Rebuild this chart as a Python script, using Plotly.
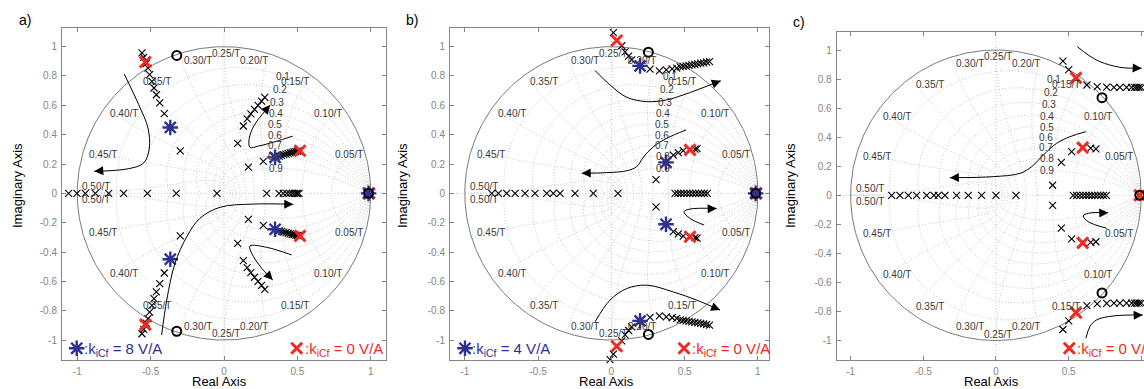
import numpy as np
import plotly.graph_objects as go

W, H = 1144, 389

# ---------------- data: panel a)  (k_iCf = 8 V/A) ----------------
# upper-half locus points (lower half is the complex conjugate)
a_locus_x = [-0.559, -0.547, -0.530, -0.518, -0.507, -0.491, -0.477, -0.461, -0.438, -0.407, -0.298,
             0.132, 0.158, 0.183, 0.208, 0.232, 0.256, 0.278,
             0.093, 0.166, 0.268,
             0.375, 0.392, 0.408, 0.423, 0.437, 0.451, 0.464, 0.477, 0.489, 0.500, 0.510]
a_locus_y = [0.957, 0.927, 0.885, 0.854, 0.809, 0.763, 0.718, 0.672, 0.616, 0.543, 0.290,
             0.459, 0.507, 0.541, 0.572, 0.600, 0.628, 0.654,
             0.341, 0.178, 0.218,
             0.254, 0.259, 0.264, 0.268, 0.272, 0.276, 0.279, 0.282, 0.285, 0.287, 0.289]
a_real_x = [-1.059, -1.002, -0.945, -0.877, -0.786, -0.684, -0.522, -0.325, -0.048, 0.291,
            0.375, 0.404, 0.427, 0.447, 0.465, 0.480, 0.493, 0.503, 0.511, 0.975, 0.990]
a_red_x, a_red_y = [-0.536, 0.518], [0.895, 0.290]
a_red_real = [0.990]
a_blue_x, a_blue_y = [-0.366, 0.348], [0.449, 0.245]
a_blue_real = [0.985]
a_zero_x, a_zero_y = [-0.322], [0.940]
a_zero_real = [0.985]
a_arrows = [
    [(-0.680, 0.813), (-0.581, 0.604), (-0.518, 0.445), (-0.509, 0.309), (-0.547, 0.207), (-0.650, 0.168), (-0.884, 0.150)],
    [(0.468, 0.390), (0.348, 0.352), (0.234, 0.322), (0.177, 0.313), (0.172, 0.375), (0.207, 0.466), (0.257, 0.534), (0.314, 0.602)],
    [(-0.425, -0.966), (-0.390, -0.727), (-0.334, -0.477), (-0.254, -0.296), (-0.164, -0.170), (-0.027, -0.095), (0.200, -0.073), (0.472, -0.075)],
    [(0.461, -0.420), (0.291, -0.368), (0.177, -0.359), (0.189, -0.409), (0.257, -0.511), (0.332, -0.591)],
]

# ---------------- data: panel b)  (k_iCf = 4 V/A) ----------------
b_locus_x = [-0.009, 0.014, 0.071, 0.094, 0.118, 0.139,
             0.264, 0.328, 0.375, 0.415, 0.446, 0.470, 0.490, 0.510, 0.530, 0.550, 0.570, 0.590, 0.610, 0.630, 0.650, 0.670,
             0.305, 0.423, 0.457, 0.491, 0.571, 0.585]
b_locus_y = [1.133, 1.096, 1.006, 0.965, 0.935, 0.910,
             0.846, 0.835, 0.842, 0.848, 0.853, 0.862, 0.866, 0.869, 0.872, 0.876, 0.879, 0.883, 0.887, 0.890, 0.894, 0.898,
             0.093, 0.261, 0.277, 0.291, 0.302, 0.305]
b_real_x = [-0.816, -0.771, -0.714, -0.657, -0.589, -0.521, -0.441, -0.396, -0.350, -0.248, -0.123, 0.045,
            0.435, 0.455, 0.475, 0.495, 0.515, 0.535, 0.555, 0.575, 0.595, 0.615, 0.635, 0.655, 0.975, 0.990]
b_red_x, b_red_y = [0.037, 0.537], [1.042, 0.296]
b_red_real = [0.990]
b_blue_x, b_blue_y = [0.196, 0.373], [0.869, 0.211]
b_blue_real = [0.985]
b_zero_x, b_zero_y = [0.253], [0.962]
b_zero_real = [0.985]
b_arrows = [
    [(-0.111, 0.837), (-0.009, 0.739), (0.105, 0.655), (0.242, 0.625), (0.378, 0.637), (0.491, 0.671), (0.747, 0.767)],
    [(0.510, 0.432), (0.378, 0.375), (0.287, 0.318), (0.218, 0.246), (0.173, 0.182), (0.105, 0.154), (-0.031, 0.141), (-0.202, 0.137)],
    [(0.633, -0.216), (0.537, -0.171), (0.496, -0.125), (0.537, -0.107), (0.719, -0.103)],
    [(-0.111, -0.876), (-0.009, -0.728), (0.105, -0.649), (0.242, -0.626), (0.423, -0.672), (0.583, -0.728), (0.742, -0.796)],
]

# ---------------- data: panel c)  (k_iCf = 0 V/A) ----------------
c_locus_x = [0.461, 0.501, 0.626, 0.697, 0.762, 0.812, 0.853, 0.899, 0.934, 0.955, 0.970, 0.985, 1.000,
             0.390, 0.450, 0.521, 0.652, 0.688]
c_locus_y = [0.924, 0.865, 0.759, 0.748, 0.744, 0.742, 0.742, 0.742, 0.742, 0.742, 0.742, 0.742, 0.742,
             0.069, 0.226, 0.300, 0.325, 0.320]
c_real_x = [-0.718, -0.661, -0.603, -0.546, -0.477, -0.427, -0.397, -0.351, -0.271, -0.190, -0.099, 0.000, 0.138,
            0.532, 0.555, 0.578, 0.600, 0.620, 0.640, 0.660, 0.680, 0.700, 0.720, 0.740, 0.760, 0.980]
c_red_x, c_red_y = [0.551, 0.597], [0.808, 0.328]
c_red_real = [0.990]
c_blue_x, c_blue_y = [], []
c_blue_real = []
c_zero_x, c_zero_y = [0.730], [0.672]
c_zero_real = [0.990]
c_arrows = [
    [(0.560, 1.023), (0.635, 0.966), (0.716, 0.920), (0.853, 0.881), (1.003, 0.874)],
    [(0.619, 0.438), (0.509, 0.403), (0.418, 0.358), (0.326, 0.277), (0.246, 0.197), (0.165, 0.151), (-0.019, 0.128), (-0.317, 0.121)],
    [(0.762, -0.227), (0.635, -0.182), (0.601, -0.142), (0.635, -0.124), (0.773, -0.120)],
    [(0.619, -0.984), (0.647, -0.904), (0.693, -0.858), (0.807, -0.831), (1.010, -0.824)],
]

# ---------------- grid (zgrid) ----------------
ZETAS = [0.1, 0.2, 0.3, 0.4, 0.5, 0.6, 0.7, 0.8, 0.9]
ZETA_LABELS = ["0.1", "0.2", "0.3", "0.4", "0.5", "0.6", "0.7", "0.8", "0.9"]
WN_FRACS = [0.05, 0.10, 0.15, 0.20, 0.25, 0.30, 0.35, 0.40, 0.45, 0.50]
WN_LABELS = ["0.05/T", "0.10/T", "0.15/T", "0.20/T", "0.25/T", "0.30/T", "0.35/T", "0.40/T", "0.45/T", "0.50/T"]

X_TICKS = [-1, -0.5, 0, 0.5, 1]
X_TICKTEXT = ["-1", "-0.5", "0", "0.5", "1"]
Y_TICKS = [-1, -0.8, -0.6, -0.4, -0.2, 0, 0.2, 0.4, 0.6, 0.8, 1]
Y_TICKTEXT = ["-1", "-0.8", "-0.6", "-0.4", "-0.2", "0", "0.2", "0.4", "0.6", "0.8", "1"]

GAIN_TEXTS = ["8 V/A", "4 V/A", None]

# ---------------- styles ----------------
FONT = "Liberation Sans, Arial, Helvetica, sans-serif"
AXGRAY = "#858585"
GRIDGRAY = "#c8c8c8"
LABELGRAY = "#383838"
RED = "#ee2a24"
BLUE = "#2e3192"

PANELS = [
    dict(xa="x", ya="y", left=62, right=386, top=28, bottom=360, xr=[-1.104, 1.104], yr=[-1.136, 1.127],
         locus=(a_locus_x, a_locus_y), real=a_real_x, red=(a_red_x, a_red_y, a_red_real),
         blue=(a_blue_x, a_blue_y, a_blue_real), zero=(a_zero_x, a_zero_y, a_zero_real), arrows=a_arrows,
         tag="a)", tagpos=(25, 20), ytitle_px=17, blue_leg=(76.7, 348.3), red_leg=(296.7, 348.3), gain=GAIN_TEXTS[0], mirror_y="ticks"),
    dict(xa="x2", ya="y2", left=450, right=769, top=28, bottom=360, xr=[-1.101, 1.076], yr=[-1.136, 1.127],
         locus=(b_locus_x, b_locus_y), real=b_real_x, red=(b_red_x, b_red_y, b_red_real),
         blue=(b_blue_x, b_blue_y, b_blue_real), zero=(b_zero_x, b_zero_y, b_zero_real), arrows=b_arrows,
         tag="b)", tagpos=(412, 20), ytitle_px=402, blue_leg=(465, 348.3), red_leg=(684, 348.3), gain=GAIN_TEXTS[1], mirror_y="ticks"),
    dict(xa="x3", ya="y3", left=836.7, right=1144, top=31.7, bottom=360, xr=[-1.096, 1.019], yr=[-1.134, 1.126],
         locus=(c_locus_x, c_locus_y), real=c_real_x, red=(c_red_x, c_red_y, c_red_real),
         blue=(c_blue_x, c_blue_y, c_blue_real), zero=(c_zero_x, c_zero_y, c_zero_real), arrows=c_arrows,
         tag="c)", tagpos=(799, 22), ytitle_px=790, blue_leg=None, red_leg=(1069.3, 348.3), gain=GAIN_TEXTS[2], mirror_y=False),
]


def px2data(p, px, py):
    x = p["xr"][0] + (px - p["left"]) / (p["right"] - p["left"]) * (p["xr"][1] - p["xr"][0])
    y = p["yr"][1] - (py - p["top"]) / (p["bottom"] - p["top"]) * (p["yr"][1] - p["yr"][0])
    return x, y


def data2px_x(p, x):
    return p["left"] + (x - p["xr"][0]) / (p["xr"][1] - p["xr"][0]) * (p["right"] - p["left"])


def with_conj(xs, ys, real_xs):
    X = list(xs) + list(xs) + list(real_xs)
    Y = list(ys) + [-v for v in ys] + [0.0] * len(real_xs)
    return X, Y


fig = go.Figure()
annotations = []
layout_axes = {}

for i, p in enumerate(PANELS):
    xa, ya = p["xa"], p["ya"]
    # --- zgrid dotted curves ---
    gx, gy = [], []
    th = np.linspace(0, np.pi, 240)
    for z in ZETAS:
        m = z / np.sqrt(1 - z * z)
        zz = np.exp((-m + 1j) * th)
        for s in (1, -1):
            gx += list(zz.real) + [None]
            gy += list(s * zz.imag) + [None]
    zs = np.linspace(0, 1, 160)
    for f in WN_FRACS:
        wn = 2 * np.pi * f
        zz = np.exp(wn * (-zs + 1j * np.sqrt(1 - zs ** 2)))
        for s in (1, -1):
            gx += list(zz.real) + [None]
            gy += list(s * zz.imag) + [None]
    fig.add_trace(go.Scatter(x=gx, y=gy, mode="lines", xaxis=xa, yaxis=ya, hoverinfo="skip",
                             line=dict(color=GRIDGRAY, width=1, dash="1px,2px"), showlegend=False))
    # dotted axis lines through the origin
    fig.add_trace(go.Scatter(x=[p["xr"][0], p["xr"][1], None, 0, 0], y=[0, 0, None, p["yr"][0], p["yr"][1]],
                             mode="lines", xaxis=xa, yaxis=ya, hoverinfo="skip",
                             line=dict(color=GRIDGRAY, width=1, dash="1px,2px"), showlegend=False))
    # unit circle
    ph = np.linspace(0, 2 * np.pi, 400)
    fig.add_trace(go.Scatter(x=np.cos(ph), y=np.sin(ph), mode="lines", xaxis=xa, yaxis=ya, hoverinfo="skip",
                             line=dict(color="#7a7a7a", width=1), showlegend=False))

    # --- grid labels ---
    for f, lab in zip(WN_FRACS, WN_LABELS):
        ang = 2 * np.pi * f
        cx, cy = np.cos(ang), np.sin(ang)
        if abs(cx) < 0.05:
            xan, xs = "center", 2
        elif cx > 0:
            xan, xs = "right", 0
        else:
            xan, xs = "left", 4
        for s in (1, -1):
            yan = "top" if s > 0 else "bottom"
            if f == 0.50:
                yan = "bottom" if s > 0 else "top"
            annotations.append(dict(x=cx, y=s * cy, xref=xa, yref=ya, text=lab, showarrow=False,
                                    xanchor=xan, yanchor=yan, xshift=xs, borderpad=0,
                                    font=dict(family=FONT, size=10, color=LABELGRAY)))
    for z, lab in zip(ZETAS, ZETA_LABELS):
        wn = 1.12 - 0.09 * z
        zz = np.exp(wn * (-z + 1j * np.sqrt(1 - z * z)))
        annotations.append(dict(x=zz.real, y=zz.imag, xref=xa, yref=ya, text=lab, showarrow=False,
                                xanchor="center", yanchor="middle", borderpad=0,
                                font=dict(family=FONT, size=10, color=LABELGRAY)))

    # --- locus points ---
    lx, ly = with_conj(p["locus"][0], p["locus"][1], p["real"])
    fig.add_trace(go.Scatter(x=lx, y=ly, mode="markers", xaxis=xa, yaxis=ya, cliponaxis=False,
                             marker=dict(symbol="x-thin", size=7, color="black", line=dict(width=1.1, color="black")),
                             showlegend=False))
    rx, ry = with_conj(p["red"][0], p["red"][1], p["red"][2])
    fig.add_trace(go.Scatter(x=rx, y=ry, mode="markers", xaxis=xa, yaxis=ya, cliponaxis=False,
                             marker=dict(symbol="x-thin", size=11, color=RED, line=dict(width=3, color=RED)),
                             showlegend=False))
    bx, by = with_conj(p["blue"][0], p["blue"][1], p["blue"][2])
    if bx:
        fig.add_trace(go.Scatter(x=bx, y=by, mode="markers", xaxis=xa, yaxis=ya, cliponaxis=False,
                                 marker=dict(symbol="asterisk", size=13, color=BLUE, line=dict(width=2.4, color=BLUE)),
                                 showlegend=False))
    zx, zy = with_conj(p["zero"][0], p["zero"][1], p["zero"][2])
    fig.add_trace(go.Scatter(x=zx, y=zy, mode="markers", xaxis=xa, yaxis=ya, cliponaxis=False,
                             marker=dict(symbol="circle-open", size=9, color="black", line=dict(width=2, color="black")),
                             showlegend=False))

    # --- arrows ---
    for arr in p["arrows"]:
        ax_ = [q[0] for q in arr]
        ay_ = [q[1] for q in arr]
        fig.add_trace(go.Scatter(x=ax_, y=ay_, mode="lines", xaxis=xa, yaxis=ya, hoverinfo="skip",
                                 cliponaxis=False, line=dict(color="black", width=1, shape="spline", smoothing=1.0),
                                 showlegend=False))
        tx, ty = arr[-1]
        px_, py_ = arr[-2]
        d = np.hypot(tx - px_, ty - py_)
        k = 0.04 / d
        annotations.append(dict(x=tx, y=ty, ax=tx - (tx - px_) * k, ay=ty - (ty - py_) * k,
                                xref=xa, yref=ya, axref=xa, ayref=ya, text="", showarrow=True,
                                arrowhead=2, arrowsize=1.8, arrowwidth=1, arrowcolor="black", standoff=0))

    # --- legend keys ---
    if p["blue_leg"] is not None:
        qx, qy = px2data(p, *p["blue_leg"])
        fig.add_trace(go.Scatter(x=[qx], y=[qy], mode="markers", xaxis=xa, yaxis=ya, cliponaxis=False,
                                 marker=dict(symbol="asterisk", size=13, color=BLUE, line=dict(width=2.4, color=BLUE)),
                                 showlegend=False))
        annotations.append(dict(x=(p["blue_leg"][0] + 5) / W, y=1 - (p["blue_leg"][1] + 1.5) / H, xref="paper", yref="paper",
                                text=":k<sub>iCf</sub> = " + p["gain"], showarrow=False, xanchor="left", yanchor="middle",
                                font=dict(family=FONT, size=15, color=BLUE)))
    qx, qy = px2data(p, *p["red_leg"])
    fig.add_trace(go.Scatter(x=[qx], y=[qy], mode="markers", xaxis=xa, yaxis=ya, cliponaxis=False,
                             marker=dict(symbol="x-thin", size=11, color=RED, line=dict(width=3, color=RED)),
                             showlegend=False))
    annotations.append(dict(x=(p["red_leg"][0] + 6) / W, y=1 - (p["red_leg"][1] + 1.5) / H, xref="paper", yref="paper",
                            text=":k<sub>iCf</sub> = 0 V/A", showarrow=False, xanchor="left", yanchor="middle",
                            font=dict(family=FONT, size=15, color=RED)))

    # --- titles and tag ---
    x0px = data2px_x(p, 0.0)
    annotations.append(dict(x=(x0px - 4.5) / W, y=1 - 381.5 / H, xref="paper", yref="paper", text="Real Axis",
                            showarrow=False, xanchor="center", yanchor="middle",
                            font=dict(family=FONT, size=13, color="black")))
    annotations.append(dict(x=p["ytitle_px"] / W, y=1 - 186 / H, xref="paper", yref="paper", text="Imaginary Axis",
                            showarrow=False, xanchor="center", yanchor="middle", textangle=-90,
                            font=dict(family=FONT, size=13, color="black")))
    annotations.append(dict(x=p["tagpos"][0] / W, y=1 - p["tagpos"][1] / H, xref="paper", yref="paper", text=p["tag"],
                            showarrow=False, xanchor="center", yanchor="middle",
                            font=dict(family=FONT, size=14, color="black")))

    # --- axes ---
    suffix = "" if i == 0 else str(i + 1)
    layout_axes["xaxis" + suffix] = dict(
        domain=[p["left"] / W, min(p["right"] / W, 1.0)], range=p["xr"], anchor=ya,
        tickvals=X_TICKS, ticktext=X_TICKTEXT, ticks="inside", ticklen=4, tickcolor=AXGRAY,
        showline=True, linecolor=AXGRAY, linewidth=1, mirror="ticks", showgrid=False, zeroline=False,
        tickfont=dict(family=FONT, size=10, color=AXGRAY), ticklabelstandoff=2, fixedrange=True)
    layout_axes["yaxis" + suffix] = dict(
        domain=[1 - p["bottom"] / H, 1 - p["top"] / H], range=p["yr"], anchor=xa,
        tickvals=Y_TICKS, ticktext=Y_TICKTEXT, ticks="inside", ticklen=4, tickcolor=AXGRAY,
        showline=True, linecolor=AXGRAY, linewidth=1, mirror=p["mirror_y"], showgrid=False, zeroline=False,
        tickfont=dict(family=FONT, size=10, color=AXGRAY), ticklabelstandoff=2, fixedrange=True)

fig.update_layout(
    width=W, height=H, margin=dict(l=0, r=0, t=0, b=0),
    paper_bgcolor="white", plot_bgcolor="white",
    showlegend=False, annotations=annotations,
    font=dict(family=FONT),
    **layout_axes,
)

fig.write_html("out.html", config={"displayModeBar": False},
               post_script="document.body.style.margin='0px';document.body.style.overflow='hidden';")
